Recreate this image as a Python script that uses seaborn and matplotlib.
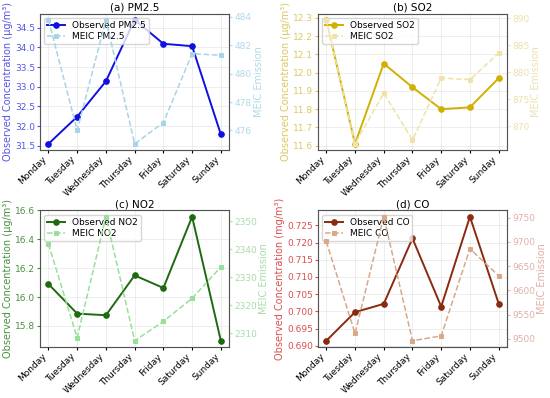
import numpy as np
import pandas as pd
import matplotlib
matplotlib.use("Agg")
import matplotlib.pyplot as plt
from matplotlib.ticker import MultipleLocator
import seaborn as sns

days = ["Monday", "Tuesday", "Wednesday", "Thursday", "Friday", "Saturday", "Sunday"]

# observed concentrations
obs_pm25 = [31.55, 32.24, 33.14, 34.70, 34.09, 34.03, 31.79]
obs_so2 = [12.29, 11.61, 12.05, 11.92, 11.80, 11.81, 11.97]
obs_no2 = [16.09, 15.885, 15.874, 16.15, 16.063, 16.557, 15.697]
obs_co = [0.6915, 0.6998, 0.7022, 0.7212, 0.7014, 0.7275, 0.7023]

# MEIC emissions
meic_pm25 = [483.8, 476.0, 483.8, 475.05, 476.55, 481.4, 481.3]
meic_so2 = [889.7, 866.7, 876.1, 867.4, 878.9, 878.6, 883.5]
meic_no2 = [2341.9, 2308.4, 2351.7, 2307.3, 2314.2, 2322.5, 2333.7]
meic_co = [9701, 9511, 9752, 9496, 9506, 9686, 9630]

# tick steps for left / right axes
left_steps = [0.5, 0.1, 0.2, 0.005]
right_steps = [2, 5, 10, 50]

panels = [
    ("(a)", "PM2.5", obs_pm25, meic_pm25, "µg/m³", "#1010e0", "#5555e8", "#a8d4e6", "#b0d8ea"),
    ("(b)", "SO2", obs_so2, meic_so2, "µg/m³", "#d0b000", "#dcc860", "#f0e2a8", "#ece0b0"),
    ("(c)", "NO2", obs_no2, meic_no2, "µg/m³", "#1e6a10", "#4a9040", "#98e098", "#a8dca8"),
    ("(d)", "CO", obs_co, meic_co, "mg/m³", "#8a2a10", "#d85050", "#d8a888", "#e0b0a8"),
]

plt.rcParams['font.family'] = ['DejaVu Sans']
fig, axes = plt.subplots(2, 2, figsize=(5.5, 3.98), dpi=100)
x = np.arange(len(days))

for i, (ax, (tag, name, obs, meic, unit, c_obs, c_lab, c_meic, c_tick)) in enumerate(zip(axes.flat, panels)):
    df = pd.DataFrame({"x": x, "obs": obs, "meic": meic})
    ax2 = ax.twinx()
    sns.lineplot(data=df, x="x", y="obs", ax=ax, color=c_obs, marker="o", markersize=4,
                 markeredgecolor=c_obs, linewidth=1.4, label=f"Observed {name}", legend=False)
    sns.lineplot(data=df, x="x", y="meic", ax=ax2, color=c_meic, marker="s", markersize=3.5,
                 markeredgecolor=c_meic, linewidth=1.1, linestyle="--", label=f"MEIC {name}",
                 legend=False)
    ax.set_xticks(x)
    ax.set_xticklabels(days, rotation=45, ha="right", fontsize=6.5)
    ax.set_xlabel("")
    ax.yaxis.set_major_locator(MultipleLocator(left_steps[i]))
    ax2.yaxis.set_major_locator(MultipleLocator(right_steps[i]))
    ax.set_ylabel(f"Observed Concentration ({unit})", color=c_lab, fontsize=7, labelpad=1.5)
    ax2.set_ylabel("MEIC Emission", color=c_tick, fontsize=7, labelpad=1.5)
    ax.tick_params(axis="y", colors=c_lab, labelsize=6.5, length=2, pad=1.5)
    ax.tick_params(axis="x", labelsize=6.5, length=2, pad=1.5)
    ax2.tick_params(axis="y", colors=c_tick, labelsize=6.5, length=2, pad=1.5)
    ax.grid(True, color="#dddddd", linewidth=0.5, alpha=0.7)
    ax.set_title(f"{tag} {name}", fontsize=7.5, pad=2)
    for sp in ax2.spines.values():
        sp.set_color("#555555")
        sp.set_linewidth(0.7)
    h1, l1 = ax.get_legend_handles_labels()
    h2, l2 = ax2.get_legend_handles_labels()
    ax.legend(h1 + h2, l1 + l2, loc="upper left", fontsize=6.5, framealpha=0.8,
              handlelength=2.0, borderpad=0.3, labelspacing=0.3)

plt.tight_layout(pad=0.2, w_pad=0.4, h_pad=0.1)
fig.savefig("out.png", dpi=100)
